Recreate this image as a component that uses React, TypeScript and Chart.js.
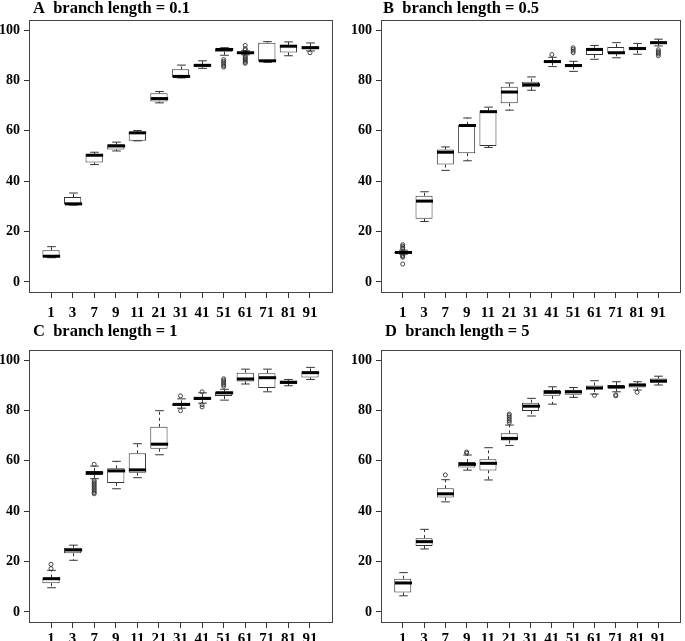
import React, { useEffect, useRef } from 'react';
import { Chart, registerables } from 'chart.js';

Chart.register(...registerables);

// ---------- data ----------
const categories = ['1', '3', '7', '9', '11', '21', '31', '41', '51', '61', '71', '81', '91'];
const yTickValues = [0, 20, 40, 60, 80, 100];
const titles = [
  'A  branch length = 0.1',
  'B  branch length = 0.5',
  'C  branch length = 1',
  'D  branch length = 5',
];

// each row: [lower whisker, Q1, median, Q3, upper whisker]
const statsA = [
  [9.6, 9.9, 10.2, 12.6, 14.0],
  [30.5, 30.8, 31.0, 33.7, 35.3],
  [46.6, 47.4, 50.3, 50.7, 51.5],
  [52.0, 52.6, 54.0, 54.7, 55.5],
  [56.0, 56.1, 59.2, 59.3, 60.1],
  [71.1, 71.6, 72.8, 74.9, 75.6],
  [81.0, 81.2, 81.6, 84.4, 86.1],
  [84.8, 85.2, 86.0, 86.5, 87.8],
  [90.0, 91.4, 92.3, 92.8, 93.0],
  [90.2, 90.7, 91.0, 91.3, 91.8],
  [87.2, 87.5, 87.8, 95.0, 95.4],
  [89.8, 91.1, 93.6, 94.1, 95.3],
  [91.7, 92.4, 93.0, 93.6, 94.9],
];
const outliersA = [
  [], [], [], [], [], [], [], [],
  [88.3, 87.6, 87.0, 86.4, 85.8, 85.3],
  [93.9, 92.6, 92.1, 89.7, 89.2, 88.7, 88.2, 87.7, 87.2, 86.8],
  [], [],
  [91.0],
];

const statsB = [
  [11.0, 11.4, 11.7, 12.1, 12.6],
  [24.0, 25.1, 32.1, 34.2, 35.8],
  [44.3, 46.6, 51.5, 52.6, 53.6],
  [48.1, 51.1, 62.1, 62.4, 65.1],
  [53.4, 54.0, 67.6, 67.9, 69.4],
  [68.2, 70.9, 75.4, 77.5, 79.0],
  [76.1, 77.3, 78.3, 79.5, 81.4],
  [85.5, 87.1, 87.5, 87.8, 89.2],
  [83.6, 85.5, 85.9, 86.5, 87.6],
  [88.4, 90.1, 92.3, 93.0, 93.9],
  [89.0, 90.8, 91.0, 93.3, 95.0],
  [90.4, 92.0, 92.7, 93.3, 94.7],
  [93.7, 94.6, 95.0, 95.5, 96.4],
];
const outliersB = [
  [13.1, 13.6, 14.2, 14.8, 10.6, 10.2, 9.8, 7.1],
  [], [], [], [], [], [],
  [90.3],
  [91.0, 91.7, 92.4, 93.0],
  [], [], [],
  [92.2, 91.5, 91.0, 90.5, 89.8],
];

const statsC = [
  [9.6, 11.4, 13.2, 13.6, 16.5],
  [20.5, 23.3, 24.6, 25.5, 26.5],
  [52.9, 54.4, 55.2, 56.0, 57.9],
  [48.9, 51.2, 56.0, 57.0, 59.8],
  [53.3, 55.3, 56.4, 63.0, 66.8],
  [62.4, 64.8, 66.6, 73.5, 79.9],
  [80.9, 81.9, 82.4, 82.8, 84.6],
  [82.9, 84.1, 84.8, 85.3, 87.0],
  [84.1, 85.7, 87.0, 87.5, 88.4],
  [90.5, 91.5, 92.5, 95.0, 96.4],
  [87.4, 88.9, 93.0, 94.8, 96.4],
  [89.8, 90.5, 91.2, 91.8, 92.3],
  [92.3, 93.1, 95.0, 95.5, 97.1],
];
const outliersC = [
  [17.2, 18.9],
  [],
  [58.6, 52.2, 51.6, 51.0, 50.4, 49.8, 49.2, 48.6, 48.0, 47.4, 46.9],
  [], [], [],
  [85.8, 79.9],
  [87.4, 82.3, 81.4],
  [89.6, 90.2, 90.8, 91.4, 92.0, 92.6],
  [], [], [], [],
];

const statsD = [
  [6.4, 7.7, 11.5, 13.2, 15.6],
  [25.0, 26.2, 27.9, 29.3, 32.8],
  [43.7, 45.4, 46.9, 49.1, 52.5],
  [56.3, 57.3, 58.6, 59.5, 62.3],
  [52.4, 56.2, 59.0, 60.6, 65.2],
  [66.1, 68.1, 68.9, 70.9, 74.2],
  [77.8, 79.8, 81.7, 83.1, 84.8],
  [82.5, 85.8, 87.2, 88.1, 89.4],
  [85.2, 86.2, 87.4, 88.2, 89.1],
  [86.5, 88.5, 88.9, 89.9, 91.8],
  [87.4, 88.7, 89.3, 90.1, 91.4],
  [88.1, 89.1, 90.1, 90.7, 91.4],
  [90.1, 91.0, 91.7, 92.7, 93.6],
];
const outliersD = [
  [], [],
  [54.4],
  [63.0, 63.5],
  [],
  [75.2, 75.9, 76.6, 77.3, 78.0, 78.6],
  [], [], [],
  [86.0],
  [86.2, 85.8],
  [87.2],
  [],
];

// ---------- styling / layout ----------
const FONT_FAMILY = '"Liberation Serif", "Times New Roman", serif';
const LINE = '#333';
const FRAME = '#444';

const panels = [
  { title: titles[0], stats: statsA, outliers: outliersA, left: 0, top: 0, w: 340, h: 320, pad: { left: 0, top: 20, right: 8, bottom: 0 }, yW: 29, xH: 28, xPad: 6, tx: 33, ty: 13 },
  { title: titles[1], stats: statsB, outliers: outliersB, left: 340, top: 0, w: 345, h: 320, pad: { left: 0, top: 20, right: 2, bottom: 0 }, yW: 41, xH: 28, xPad: 6, tx: 43, ty: 13 },
  { title: titles[2], stats: statsC, outliers: outliersC, left: 0, top: 320, w: 340, h: 321, pad: { left: 0, top: 30, right: 8, bottom: 0 }, yW: 29, xH: 19, xPad: 2, tx: 33, ty: 16 },
  { title: titles[3], stats: statsD, outliers: outliersD, left: 340, top: 320, w: 345, h: 321, pad: { left: 0, top: 30, right: 2, bottom: 0 }, yW: 41, xH: 19, xPad: 2, tx: 45, ty: 16 },
];

const boxPartsPlugin = {
  id: 'boxParts',
  afterDatasetsDraw(chart: any, _args: any, opts: any) {
    const { ctx } = chart;
    const x = chart.scales.x;
    const y = chart.scales.y;
    const stats: number[][] = opts.stats || [];
    ctx.save();
    stats.forEach((s, i) => {
      const pos = i + 1;
      const cx = Math.round(x.getPixelForValue(pos)) + 0.5;
      const half = (x.getPixelForValue(pos + 0.4) - x.getPixelForValue(pos - 0.4)) / 2;
      const cap = half / 2;
      const [lo, q1, med, q3, hi] = s;
      const py = (v: number) => y.getPixelForValue(v);
      ctx.strokeStyle = LINE;
      ctx.lineWidth = 1;
      ctx.setLineDash([3, 3]);
      ctx.beginPath();
      ctx.moveTo(cx, py(q3));
      ctx.lineTo(cx, py(hi));
      ctx.moveTo(cx, py(q1));
      ctx.lineTo(cx, py(lo));
      ctx.stroke();
      ctx.setLineDash([]);
      ctx.beginPath();
      ctx.moveTo(cx - cap, py(hi));
      ctx.lineTo(cx + cap, py(hi));
      ctx.moveTo(cx - cap, py(lo));
      ctx.lineTo(cx + cap, py(lo));
      ctx.stroke();
      ctx.strokeStyle = '#000';
      ctx.lineWidth = 3;
      ctx.beginPath();
      ctx.moveTo(cx - half, py(med));
      ctx.lineTo(cx + half, py(med));
      ctx.stroke();
    });
    ctx.restore();
  },
};

const framePlugin = {
  id: 'frame',
  afterDraw(chart: any) {
    const { ctx, chartArea: a } = chart;
    ctx.save();
    ctx.strokeStyle = FRAME;
    ctx.lineWidth = 1;
    ctx.strokeRect(Math.round(a.left) + 0.5, Math.round(a.top) + 0.5, Math.round(a.right - a.left), Math.round(a.bottom - a.top));
    ctx.restore();
  },
};

const panelTitlePlugin = {
  id: 'panelTitle',
  afterDraw(chart: any, _args: any, opts: any) {
    const { ctx } = chart;
    ctx.save();
    ctx.font = `bold 16.5px ${FONT_FAMILY}`;
    ctx.fillStyle = '#000';
    ctx.textAlign = 'left';
    ctx.textBaseline = 'alphabetic';
    ctx.fillText(opts.text, opts.x, opts.y);
    ctx.restore();
  },
};

function BoxPanel({ cfg }: { cfg: any }) {
  const ref = useRef<HTMLCanvasElement>(null);
  useEffect(() => {
    const xFont = { family: FONT_FAMILY, size: 15, weight: 'bold' as const };
    const yFont = { family: FONT_FAMILY, size: 14, weight: 'bold' as const };
    const chart = new Chart(ref.current as HTMLCanvasElement, {
      type: 'bar',
      data: {
        datasets: [
          {
            type: 'bar',
            data: cfg.stats.map((s: number[], i: number) => ({ x: i + 1, y: [s[1], s[3]] })),
            backgroundColor: '#fff',
            borderColor: LINE,
            borderWidth: 1,
            borderSkipped: false,
            barPercentage: 1,
            categoryPercentage: 0.8,
          } as any,
          {
            type: 'scatter',
            data: cfg.outliers.flatMap((arr: number[], i: number) => arr.map((v) => ({ x: i + 1, y: v }))),
            pointRadius: 2,
            pointBorderWidth: 0.9,
            pointBorderColor: LINE,
            pointBackgroundColor: 'rgba(0,0,0,0)',
            showLine: false,
          } as any,
        ],
      },
      options: {
        responsive: false,
        animation: false,
        events: [],
        layout: { padding: cfg.pad },
        plugins: {
          legend: { display: false },
          tooltip: { enabled: false },
          boxParts: { stats: cfg.stats },
          panelTitle: { text: cfg.title, x: cfg.tx, y: cfg.ty },
        } as any,
        scales: {
          x: {
            type: 'linear',
            min: -0.02,
            max: 14.02,
            offset: false,
            afterBuildTicks: (s: any) => {
              s.ticks = categories.map((_, i) => ({ value: i + 1 }));
            },
            afterFit: (s: any) => {
              s.height = cfg.xH;
            },
            ticks: {
              callback: (v: any) => categories[Number(v) - 1] ?? '',
              font: xFont,
              color: '#000',
              padding: cfg.xPad,
              autoSkip: false,
              maxRotation: 0,
            },
            grid: { drawOnChartArea: false, drawTicks: true, tickLength: 6, color: LINE, offset: false },
            border: { display: true, color: FRAME },
          },
          y: {
            type: 'linear',
            min: -4,
            max: 104,
            afterBuildTicks: (s: any) => {
              s.ticks = yTickValues.map((v) => ({ value: v }));
            },
            afterFit: (s: any) => {
              s.width = cfg.yW;
            },
            ticks: {
              font: yFont,
              color: '#000',
              padding: 4,
            },
            grid: { drawOnChartArea: false, drawTicks: true, tickLength: 5, color: LINE },
            border: { display: true, color: FRAME },
          },
        } as any,
      },
      plugins: [boxPartsPlugin, framePlugin, panelTitlePlugin],
    });
    return () => chart.destroy();
  }, [cfg]);
  return (
    <canvas
      ref={ref}
      width={cfg.w}
      height={cfg.h}
      style={{ position: 'absolute', left: cfg.left, top: cfg.top, width: cfg.w, height: cfg.h }}
    />
  );
}

export default function App() {
  return (
    <div style={{ position: 'absolute', left: 0, top: 0, width: 685, height: 641, background: '#fff', overflow: 'hidden' }}>
      {panels.map((p, i) => (
        <BoxPanel key={i} cfg={p} />
      ))}
    </div>
  );
}
